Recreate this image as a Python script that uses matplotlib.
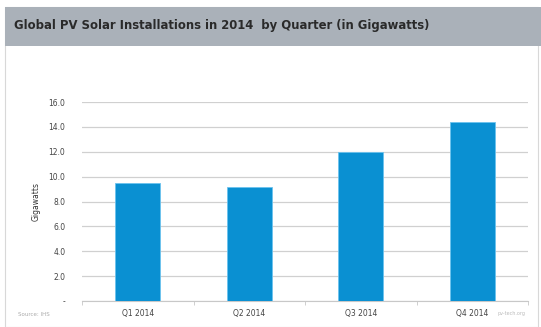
import matplotlib.pyplot as plt
from matplotlib.patches import Rectangle

categories = ["Q1 2014", "Q2 2014", "Q3 2014", "Q4 2014"]
values = [9.5, 9.2, 12.0, 14.4]
yticks = [0, 2, 4, 6, 8, 10, 12, 14, 16]
ytick_labels = ["-", "2.0", "4.0", "6.0", "8.0", "10.0", "12.0", "14.0", "16.0"]

W, H = 541, 327
fig = plt.figure(figsize=(W / 100, H / 100), dpi=100)
fig.patch.set_facecolor("white")

# outer panel border
fig.add_artist(Rectangle((5 / W, 0), (W - 8) / W, (H - 7) / H, transform=fig.transFigure,
                         facecolor="white", edgecolor="#d8d8d8", lw=0.8, zorder=0))
# title bar
fig.add_artist(Rectangle((5 / W, 1 - 46 / H), (W - 5) / W, 39 / H, transform=fig.transFigure,
                         facecolor="#aab1b9", edgecolor="none", zorder=1))
fig.text(14 / W, 1 - 25 / H, "Global PV Solar Installations in 2014  by Quarter (in Gigawatts)",
         fontsize=8.4, fontweight="bold", color="#2a2a2a", va="center", ha="left")

ax = fig.add_axes([82 / W, 1 - 301 / H, (528 - 82) / W, (301 - 102) / H])
x = list(range(len(categories)))
ax.bar(x, values, width=0.4, color="#0a90d2", edgecolor="#6cc3ee", linewidth=0.6, zorder=3)
ax.set_xlim(-0.5, 3.5)
ax.set_ylim(0, 16)
ax.set_yticks(yticks)
ax.set_yticklabels(ytick_labels, fontsize=5.5, color="#444444")
ax.set_xticks(x)
ax.set_xticklabels(categories, fontsize=5.5, color="#444444")
ax.tick_params(axis="x", length=0, pad=6)
ax.tick_params(axis="y", length=0, pad=12)
ax.set_xticks([-0.5, 0.5, 1.5, 2.5, 3.5], minor=True)
ax.tick_params(axis="x", which="minor", length=3, color="#c8c8c8")
ax.grid(axis="y", color="#d0d0d0", linewidth=0.9, zorder=0)
for s in ["top", "right", "left"]:
    ax.spines[s].set_visible(False)
ax.spines["bottom"].set_color("#c8c8c8")
ax.set_ylabel("Gigawatts", fontsize=5.5, color="#333333", labelpad=6)

fig.text(18 / W, 1 - 314 / H, "Source: IHS", fontsize=4, color="#aaaaaa", va="center")
fig.text(498 / W, 1 - 314 / H, "pv-tech.org", fontsize=3.5, color="#bbbbbb", va="center")

fig.savefig("out.png", dpi=100)
